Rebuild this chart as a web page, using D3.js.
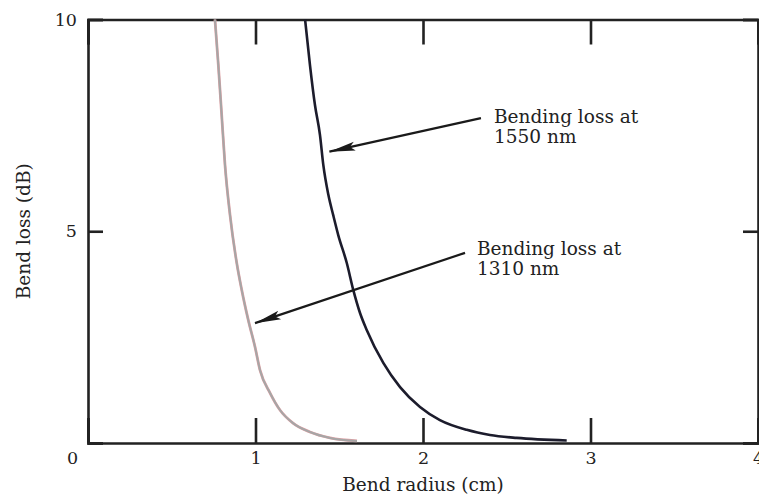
<!DOCTYPE html>
<html>
<head>
<meta charset="utf-8">
<script src="https://cdn.jsdelivr.net/npm/d3@7"></script>
<style>
  body { margin: 0; background: #fff; }
  svg text { font-family: "DejaVu Serif", serif; fill: #222; }
</style>
</head>
<body>
<svg id="chart" width="759" height="500"></svg>
<script>
// bend radius (cm) vs bend loss (dB)
const radius1310 = [0.758, 0.778, 0.798, 0.818, 0.848, 0.888, 0.918, 0.957, 0.997, 1.027, 1.087, 1.146, 1.224, 1.325, 1.445, 1.606];
const loss1310   = [10, 8.93, 7.75, 6.56, 5.38, 4.25, 3.61, 2.90, 2.27, 1.72, 1.18, 0.78, 0.47, 0.26, 0.12, 0.05];

const radius1550 = [1.296, 1.325, 1.355, 1.385, 1.405, 1.435, 1.464, 1.494, 1.545, 1.584, 1.624, 1.664, 1.763, 1.863, 1.982, 2.101, 2.261, 2.400, 2.559, 2.858];
const loss1550   = [10, 8.93, 7.98, 7.27, 6.56, 5.86, 5.38, 4.91, 4.25, 3.61, 3.07, 2.67, 1.89, 1.32, 0.85, 0.54, 0.31, 0.19, 0.12, 0.06];

const xTicks = [0, 1, 2, 3, 4];
const yTicks = [0, 5, 10];

const labels = [["Bending loss at", "1550 nm"], ["Bending loss at", "1310 nm"]];
// arrow tail, arrow head, text anchor (data units)
const arrowFrom = [[2.346, 7.67], [2.251, 4.49]];
const arrowTo   = [[1.441, 6.88], [0.997, 2.83]];
const labelAt   = [[2.424, 7.56], [2.322, 4.44]];

const svg = d3.select("#chart");
const mLeft = 88, mRight = 758, mTop = 19.5, mBottom = 443;

const x = d3.scaleLinear().domain([0, 4]).range([mLeft, mRight]);
const y = d3.scaleLinear().domain([0, 10]).range([mBottom, mTop]);

const frame = svg.append("g");

// ticks pointing inward on all four sides
frame.append("g")
    .attr("transform", `translate(0,${mBottom})`)
    .call(d3.axisBottom(x).tickValues(xTicks).tickSize(-25).tickPadding(9).tickFormat(d3.format("d")))
    .call(g => g.selectAll("text").attr("font-size", 17.5).attr("font-family", "DejaVu Serif"))
    .call(g => g.selectAll(".tick").filter(d => d === 0).select("text").attr("x", -16));

frame.append("g")
    .attr("transform", `translate(0,${mTop})`)
    .call(d3.axisTop(x).tickValues(xTicks).tickSize(-25).tickFormat(""));

frame.append("g")
    .attr("transform", `translate(${mLeft},0)`)
    .call(d3.axisLeft(y).tickValues(yTicks).tickSize(-15).tickPadding(11).tickFormat(d => d === 0 ? "" : d))
    .call(g => g.selectAll("text").attr("font-size", 17.5).attr("font-family", "DejaVu Serif"));

frame.append("g")
    .attr("transform", `translate(${mRight},0)`)
    .call(d3.axisRight(y).tickValues(yTicks).tickSize(-15).tickFormat(""));

frame.selectAll(".domain").attr("stroke", "#222").attr("stroke-width", 2.6);
frame.selectAll(".tick line").attr("stroke", "#222").attr("stroke-width", 2.6);
frame.selectAll("text").attr("fill", "#222");

// curves
const line = d3.line()
    .x(d => x(d[0]))
    .y(d => y(d[1]))
    .curve(d3.curveMonotoneX);

const pts1310 = radius1310.map((r, i) => [r, loss1310[i]]);
const pts1550 = radius1550.map((r, i) => [r, loss1550[i]]);

svg.append("path").datum(pts1310)
    .attr("d", line).attr("fill", "none")
    .attr("stroke", "#e0a0a4").attr("stroke-width", 2.8);
svg.append("path").datum(pts1310)
    .attr("d", line).attr("fill", "none")
    .attr("stroke", "#a6a6a6").attr("stroke-width", 2);

svg.append("path").datum(pts1550)
    .attr("d", line).attr("fill", "none")
    .attr("stroke", "#1c1c2c").attr("stroke-width", 2.6);

// annotation arrows
svg.append("defs").append("marker")
    .attr("id", "head")
    .attr("markerUnits", "userSpaceOnUse")
    .attr("viewBox", "0 -6 26 12")
    .attr("refX", 26).attr("refY", 0)
    .attr("markerWidth", 26).attr("markerHeight", 12)
    .attr("orient", "auto")
  .append("path")
    .attr("d", "M0,-4.5L26,0L0,4.5L5,0Z")
    .attr("fill", "#1a1a1a");

labels.forEach((lines, i) => {
  svg.append("line")
      .attr("x1", x(arrowFrom[i][0])).attr("y1", y(arrowFrom[i][1]))
      .attr("x2", x(arrowTo[i][0])).attr("y2", y(arrowTo[i][1]))
      .attr("stroke", "#1a1a1a").attr("stroke-width", 2.2)
      .attr("marker-end", "url(#head)");

  const t = svg.append("text")
      .attr("x", x(labelAt[i][0])).attr("y", y(labelAt[i][1]))
      .attr("font-size", 18.5);
  t.selectAll("tspan").data(lines).join("tspan")
      .attr("x", x(labelAt[i][0]))
      .attr("dy", (d, j) => j === 0 ? 0 : 20)
      .text(d => d);
});

// axis titles
svg.append("text")
    .attr("x", 423).attr("y", 491)
    .attr("text-anchor", "middle").attr("font-size", 18.5)
    .text("Bend radius (cm)");

svg.append("text")
    .attr("transform", `translate(30,${(mTop + mBottom) / 2}) rotate(-90)`)
    .attr("text-anchor", "middle").attr("font-size", 18.5)
    .text("Bend loss (dB)");
</script>
</body>
</html>
